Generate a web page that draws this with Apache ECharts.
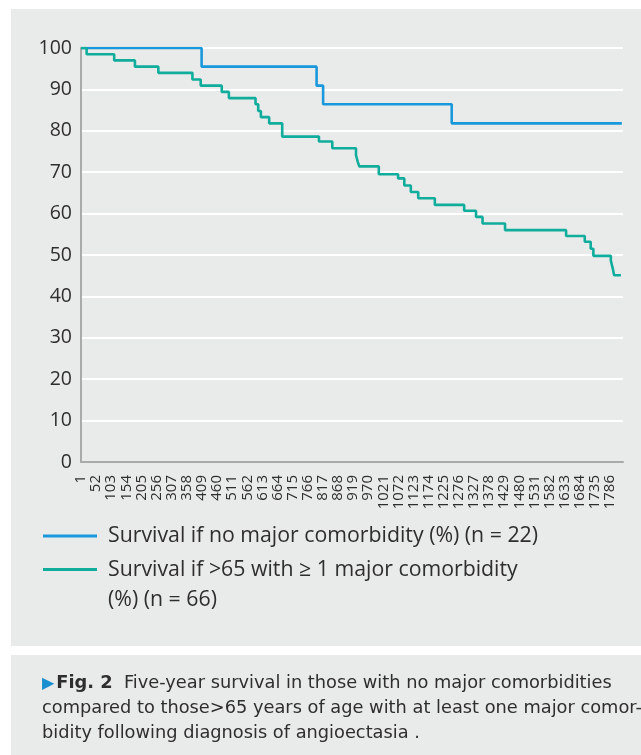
<!DOCTYPE html>
<html>
<head>
<meta charset="utf-8">
<script src="https://cdn.jsdelivr.net/npm/echarts@6/dist/echarts.min.js"></script>
<style>
  html, body { margin: 0; padding: 0; background: #ffffff; }
  #chart { width: 641px; height: 755px; }
</style>
</head>
<body>
<div id="chart"></div>
<script>
// ---- data ----
const blueName = 'Survival if no major comorbidity (%) (n = 22)';
const tealName = 'Survival if >65 with ≥ 1 major comorbidity (%) (n = 66)';

const blueDays = [1, 408, 796, 818, 1252, 1826];
const blueSurvival = [100, 95.5, 90.9, 86.4, 81.8, 81.8];

const tealDays = [1, 20, 113, 183, 262, 377, 405, 476, 500, 590, 599, 608, 636, 680, 804, 849,
  929, 935, 940, 1006, 1071, 1092, 1114, 1139, 1195, 1294, 1334, 1356, 1432, 1638, 1701,
  1721, 1730, 1789, 1795, 1800, 1823];
const tealSurvival = [100, 98.5, 97.0, 95.5, 94.0, 92.4, 90.9, 89.4, 87.9, 86.4, 84.8, 83.3, 81.8, 78.6, 77.4, 75.8,
  74.1, 72.5, 71.4, 69.5, 68.5, 66.8, 65.2, 63.7, 62.1, 60.7, 59.2, 57.6, 56.0, 54.6, 53.2,
  51.5, 49.8, 48.6, 46.9, 45.1, 45.1];

const xTickLabels = [1, 52, 103, 154, 205, 256, 307, 358, 409, 460, 511, 562, 613, 664, 715, 766,
  817, 868, 919, 970, 1021, 1072, 1123, 1174, 1225, 1276, 1327, 1378, 1429, 1480, 1531, 1582,
  1633, 1684, 1735, 1786];

const captionLines = [
  'Five-year survival in those with no major comorbidities',
  'compared to those>65 years of age with at least one major comor-',
  'bidity following diagnosis of angioectasia .'
];

// ---- chart ----
const FONT = '"Open Sans", "Liberation Sans", sans-serif';
const CAPFONT = '"DejaVu Sans", "Open Sans", sans-serif';
const TEXT = '#2e2e2e';
const chart = echarts.init(document.getElementById('chart'), null, { renderer: 'canvas' });

function pairs(xs, ys) { return xs.map((x, i) => [x, ys[i]]); }

chart.setOption({
  animation: false,
  backgroundColor: '#ffffff',
  textStyle: { fontFamily: FONT },
  graphic: [
    { type: 'rect', z: -100, silent: true, shape: { x: 11, y: 9, width: 630, height: 637 }, style: { fill: '#e9ebea' } },
    { type: 'rect', z: -100, silent: true, shape: { x: 11, y: 655, width: 630, height: 100 }, style: { fill: '#e9ebea' } },
    {
      type: 'text', z: 10, left: 42, top: 671,
      style: {
        text: '{tri|▶}{b|Fig. 2}  ' + captionLines[0] + '\n' + captionLines[1] + '\n' + captionLines[2],
        fill: TEXT,
        font: '17.8px ' + CAPFONT,
        lineHeight: 25,
        rich: {
          tri: { fill: '#1a8fd0', fontSize: 16, fontFamily: '"DejaVu Sans"', lineHeight: 25, padding: [0, 2, 0, 0] },
          b: { fontWeight: 'bold', fontSize: 17.8, fontFamily: CAPFONT, fill: TEXT, lineHeight: 25 }
        }
      }
    }
  ],
  grid: { left: 81, right: 18, top: 48, bottom: 293 },
  legend: [
    {
      orient: 'vertical', left: 43, top: 521, padding: 0,
      icon: 'rect', itemWidth: 54, itemHeight: 3,
      textStyle: { fontSize: 21.3, color: TEXT, fontFamily: FONT, lineHeight: 30, padding: [0, 0, 0, 6] },
      data: [blueName]
    },
    {
      orient: 'vertical', left: 43, top: 524.5, padding: 0,
      icon: 'rect', itemWidth: 54, itemHeight: 3,
      textStyle: { fontSize: 21.3, color: TEXT, fontFamily: FONT, lineHeight: 30, padding: [0, 0, 0, 6] },
      formatter: function () { return '\nSurvival if >65 with ≥ 1 major comorbidity\n(%) (n = 66)'; },
      data: [tealName]
    }
  ],
  xAxis: {
    type: 'value', min: 1, max: 1830,
    axisLine: { show: true, lineStyle: { color: '#a9aaaa', width: 2 } },
    axisTick: { show: false },
    splitLine: { show: false },
    axisLabel: {
      customValues: xTickLabels,
      formatter: function (v) { return String(v); },
      rotate: 90, fontSize: 15, color: TEXT, fontFamily: FONT, margin: 13
    }
  },
  yAxis: {
    type: 'value', min: 0, max: 100, interval: 10,
    axisLine: { show: true, lineStyle: { color: '#a9aaaa', width: 2 } },
    axisTick: { show: false },
    axisLabel: { fontSize: 19.5, color: TEXT, fontFamily: FONT, margin: 9 },
    splitLine: { show: true, lineStyle: { color: '#ffffff', width: 2 } }
  },
  series: [
    {
      name: blueName, type: 'line', step: 'end', showSymbol: false, symbol: 'none',
      color: '#1a98dc', lineStyle: { width: 2.6, color: '#1a98dc' },
      data: pairs(blueDays, blueSurvival), z: 3
    },
    {
      name: tealName, type: 'line', step: 'end', showSymbol: false, symbol: 'none',
      color: '#10ad9c', lineStyle: { width: 2.6, color: '#10ad9c' },
      data: pairs(tealDays, tealSurvival), z: 4
    }
  ]
});
</script>
</body>
</html>
